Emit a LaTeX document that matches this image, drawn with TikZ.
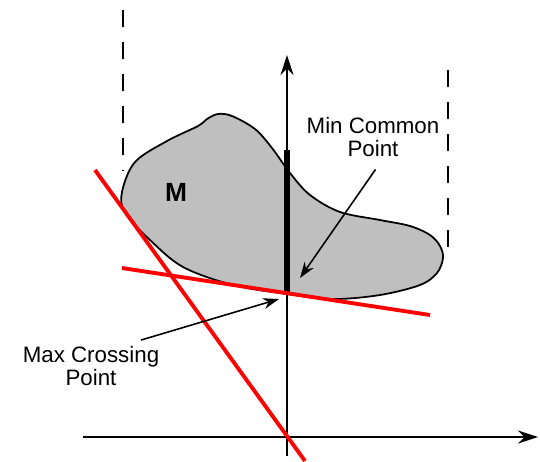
\documentclass[tikz,border=0pt]{standalone}
\usepackage{fontspec}
\setmainfont{Liberation Sans}
\usetikzlibrary{arrows.meta}
\definecolor{mcRed}{HTML}{FF0000}
\definecolor{mcGray}{HTML}{BFBFBF}
\tikzset{
  mc axis/.style={draw=black, line width=0.8pt, -{Stealth[length=4mm, width=2.6mm]}},
  mc guide/.style={draw=black, line width=0.8pt, dash pattern=on 0.34cm off 0.3cm},
  mc line/.style={draw=mcRed, line width=2.2pt},
  mc label/.style={font=\fontsize{12.7}{13}\selectfont, align=center, inner sep=0pt},
}

\begin{document}
\begin{tikzpicture}[x=0.02cm, y=-0.02cm,
  blob/.style={draw=black, fill=mcGray, line width=1pt},
  bar/.style={draw=black, line width=3.4pt},
  pointer/.style={draw=black, line width=0.9pt, -{Stealth[length=3.2mm, width=2.2mm]}}
]
  \useasboundingbox (0,0) rectangle (540,461);

  % the set M
  \draw[blob] plot[smooth cycle, tension=0.55] coordinates {
    (122,192) (135,162) (167,141) (198,126) (207,119) (218,114) (232,116)
    (255,129) (272,148) (290,173) (310,195) (340,212) (380,220) (410,226)
    (430,235) (440,246) (443,258) (437,273) (420,285) (380,295) (333,299)
    (287,294) (233,285) (183,267) (150,240) (125,213)};
  \node[font=\fontsize{15}{15}\selectfont\bfseries] (setM) at (176,192) {M};

  % dashed guides
  \draw[mc guide] (123,10) -- (123,170);
  \draw[mc guide] (448,70) -- (448,255);

  % axes
  \coordinate (origin) at (287,437);
  \coordinate (ytop) at (287,55);
  \coordinate (ybot) at (287,456);
  \coordinate (xleft) at (83,437);
  \coordinate (xright) at (538,437);
  \draw[mc axis] (ybot) -- (ytop);
  \draw[mc axis] (xleft) -- (xright);

  % vertical segment down to the common point
  \coordinate (bartop) at (287,150);
  \coordinate (mcp) at (287,293);
  \draw[bar] (bartop) -- (mcp);

  % red lines
  \coordinate (la) at (122,268);
  \coordinate (lb) at (430,315);
  \coordinate (lc) at (95,170);
  \coordinate (ld) at (305,461);
  \draw[mc line] (la) -- (lb);
  \draw[mc line] (lc) -- (ld);

  % labels
  \node[mc label] (mincommon) at (373,137) {Min Common\\Point};
  \node[mc label] (maxcross) at (91,366) {Max Crossing\\Point};
  \coordinate (mintip) at (300,278);
  \coordinate (maxtip) at (279,299);
  \draw[pointer] ([xshift=0.05cm, yshift=-0.25cm]mincommon.south) -- (mintip);
  \draw[pointer] ([xshift=1cm, yshift=0.12cm]maxcross.north) -- (maxtip);
\end{tikzpicture}
\end{document}
